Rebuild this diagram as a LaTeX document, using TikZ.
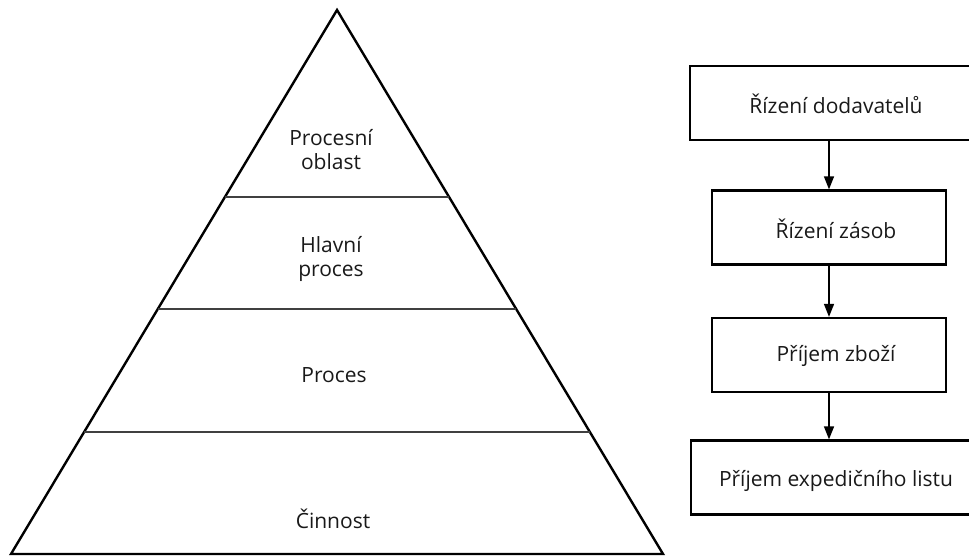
\documentclass[tikz,border=0pt]{standalone}
\usepackage{fontspec}
\setmainfont{Open Sans}
\usetikzlibrary{calc,arrows.meta}
\tikzset{box/.style={rectangle,draw,line width=2.2pt,minimum height=74pt,inner sep=0pt},
  lbl/.style={align=center,font=\fontsize{21}{24}\selectfont,text=black!90}}

\begin{document}
\begin{tikzpicture}[x=1pt,y=-1pt,>={Triangle[width=10pt,length=13pt]}]
    \useasboundingbox (0,0) rectangle (969,556);
    \coordinate (apex) at (337,10);
    \coordinate (bl) at (11,554);
    \coordinate (br) at (663,554);
    \draw[line width=2.4pt,line join=miter] (bl) -- (apex) -- (br) -- cycle;
    \draw[line width=1.6pt,black!75] ($(apex)!0.3438!(bl)$) -- ($(apex)!0.3438!(br)$);
    \draw[line width=1.6pt,black!75] ($(apex)!0.5496!(bl)$) -- ($(apex)!0.5496!(br)$);
    \draw[line width=1.6pt,black!75] ($(apex)!0.7757!(bl)$) -- ($(apex)!0.7757!(br)$);
    \node[lbl] (oblast) at (331,150) {Procesní\\oblast};
    \node[lbl] (hlavni) at (331,259) {Hlavní\\proces};
    \node[lbl] (proces) at (334,375) {Proces};
    \node[lbl] (cinnost) at (333,519) {Činnost};
    % right column
    \node[box,minimum width=320pt] (b1) at (850,103) {};
    \node[box,minimum width=234pt] (b2) at (829,227.5) {};
    \node[box,minimum width=234pt] (b3) at (829,355) {};
    \node[box,minimum width=318pt] (b4) at (850,477.5) {};
    \node[lbl] at (836,104) {Řízení dodavatelů};
    \node[lbl] at (836,229) {Řízení zásob};
    \node[lbl] at (836,356) {Příjem zboží};
    \node[lbl] at (836,481) {Příjem expedičního listu};
    \draw[->,line width=1.3pt] (b2.north |- b1.south) -- (b2.north);
    \draw[->,line width=1.3pt] (b2.south) -- (b3.north);
    \draw[->,line width=1.3pt] (b3.south) -- (b3.south |- b4.north);
\end{tikzpicture}
\end{document}
